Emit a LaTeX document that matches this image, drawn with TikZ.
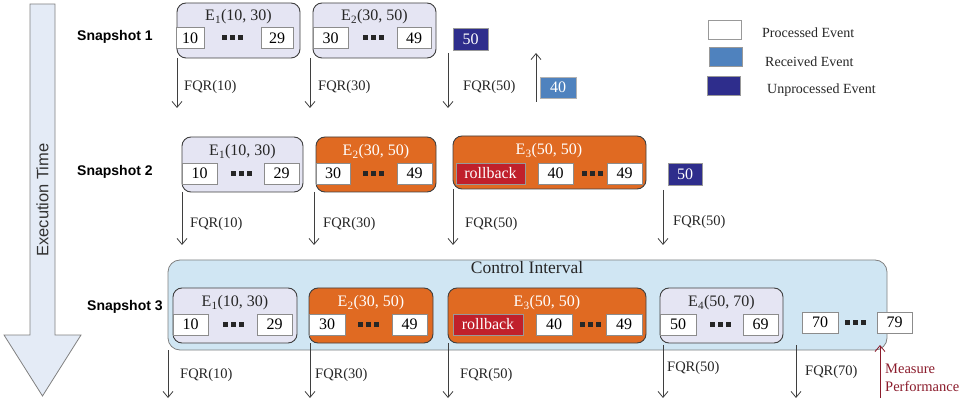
\documentclass[tikz,border=0pt]{standalone}
\usepackage{fontspec}
\setmainfont{Liberation Serif}
\setsansfont{Liberation Sans}
\usetikzlibrary{arrows.meta}
\definecolor{lav}{HTML}{E5E5F3}
\definecolor{org}{HTML}{E06A22}
\definecolor{rb}{HTML}{C0202B}
\definecolor{dkb}{HTML}{2E2D8C}
\definecolor{rcv}{HTML}{4F82BE}
\definecolor{ctl}{HTML}{D0E6F3}
\definecolor{mred}{HTML}{8B1C2C}
\definecolor{ln}{HTML}{3F3F3F}
\definecolor{exe}{HTML}{E4EBF6}
\tikzset{
  grp/.style={draw=ln, line width=0.9pt, rounded corners=9pt, fill=lav, inner sep=0},
  ogrp/.style={grp, fill=org},
  glab/.style={inner sep=0, text=black!85, font=\fontsize{16}{16}\selectfont},
  oglab/.style={glab, text=white},
  ev/.style={draw=black!45, line width=0.8pt, fill=white, inner sep=0, minimum height=21, font=\fontsize{16}{16}\selectfont},
  rbk/.style={ev, fill=rb, text=white, draw=black!40},
  unp/.style={ev, fill=dkb, text=white, draw=black!40},
  rcvd/.style={ev, fill=rcv, text=white, draw=black!30},
  fqr/.style={draw=ln, line width=0.8pt, -{Straight Barb[length=6pt,width=10pt]}},
  flab/.style={anchor=west, inner sep=0, text=black!85, font=\fontsize{14.5}{14.5}\selectfont},
  snap/.style={anchor=west, inner sep=0, font=\sffamily\bfseries\fontsize{14}{14}\selectfont},
  leg/.style={anchor=west, inner sep=0, text=black!85, font=\fontsize{14}{14}\selectfont},
  legbox/.style={draw=black!40, line width=0.8pt, minimum width=33, minimum height=19, inner sep=0},
  dots/.pic={\foreach \i in {-8,0,8} \fill[black!85] (\i-2.5,-2.5) rectangle (\i+2.5,2.5);}
}
\begin{document}
\begin{tikzpicture}[x=1pt,y=-1pt]
\useasboundingbox (0,0) rectangle (969,403);
% execution time arrow
\draw[draw=black!50, fill=exe, line width=0.8pt] (30,4) -- (55,4) -- (55,335) -- (81,335) -- (42.5,396) -- (4,335) -- (30,335) -- cycle;
\node[rotate=90, inner sep=0, text=black!80, font=\sffamily\fontsize{16.5}{16.5}\selectfont] (exet) at (42.5,200) {Execution Time};

% snapshot labels
\node[snap] (sn1) at (77,37) {Snapshot 1};
\node[snap] (sn2) at (77,172) {Snapshot 2};
\node[snap] (sn3) at (87,307) {Snapshot 3};

% legend
\node[legbox, fill=white] (lg1) at (724.5,29.5) {};
\node[legbox, fill=rcv] (lg2) at (725.5,56.5) {};
\node[legbox, fill=dkb] (lg3) at (723.5,85.5) {};
\node[leg] (lt1) at (762,33) {Processed Event};
\node[leg] (lt2) at (765,62) {Received Event};
\node[leg] (lt3) at (767,90) {Unprocessed Event};

% ---------- Snapshot 1
\node[grp, minimum width=123, minimum height=55] (g11) at (238.5,30.5) {};
\node[glab] (l11) at (238.5,17) {E\textsubscript{1}(10, 30)};
\node[ev, minimum width=28] (e11a) at (190,38) {10};
\node[ev, minimum width=32] (e11b) at (277,38) {29};
\pic at (232,38) {dots};

\node[grp, minimum width=123, minimum height=55] (g12) at (374.5,30.5) {};
\node[glab] (l12) at (374.5,17) {E\textsubscript{2}(30, 50)};
\node[ev, minimum width=35] (e12a) at (330.5,38) {30};
\node[ev, minimum width=34] (e12b) at (414,38) {49};
\pic at (373,38) {dots};

\node[unp, minimum width=35, minimum height=22] (u1) at (470.5,39) {50};
\node[rcvd, minimum width=36] (r1) at (558,87.5) {40};

\coordinate (a11s) at (177,58); \coordinate (a11e) at (177,108);
\coordinate (a12s) at (310,58); \coordinate (a12e) at (310,108);
\coordinate (a13s) at (448,53); \coordinate (a13e) at (448,108);
\coordinate (up1s) at (536,102); \coordinate (up1e) at (536,53);
\draw[fqr] (a11s) -- (a11e);
\draw[fqr] (a12s) -- (a12e);
\draw[fqr] (a13s) -- (a13e);
\draw[fqr] (up1s) -- (up1e);
\node[flab] (f11) at (184,87) {FQR(10)};
\node[flab] (f12) at (318,87) {FQR(30)};
\node[flab] (f13) at (463,87) {FQR(50)};

% ---------- Snapshot 2
\node[grp, minimum width=121, minimum height=55] (g21) at (242.5,164.5) {};
\node[glab] (l21) at (242.5,152) {E\textsubscript{1}(10, 30)};
\node[ev, minimum width=35] (e21a) at (199.5,173.5) {10};
\node[ev, minimum width=35] (e21b) at (281.5,173.5) {29};
\pic at (241,173.5) {dots};

\node[ogrp, minimum width=120, minimum height=55] (g22) at (376,164.5) {};
\node[oglab] (l22) at (376,152) {E\textsubscript{2}(30, 50)};
\node[ev, minimum width=34] (e22a) at (333,173.5) {30};
\node[ev, minimum width=35] (e22b) at (414.5,173.5) {49};
\pic at (373,173.5) {dots};

\node[ogrp, minimum width=193, minimum height=53] (g23) at (549.5,162.5) {};
\node[oglab] (l23) at (549,151) {E\textsubscript{3}(50, 50)};
\node[rbk, minimum width=69] (e23r) at (490.5,173.5) {rollback};
\node[ev, minimum width=35] (e23a) at (555.5,173.5) {40};
\node[ev, minimum width=35] (e23b) at (624.5,173.5) {49};
\pic at (592,173.5) {dots};

\node[unp, minimum width=34, minimum height=22] (u2) at (685,174) {50};

\coordinate (a21s) at (182,192); \coordinate (a21e) at (182,245);
\coordinate (a22s) at (314,192); \coordinate (a22e) at (314,245);
\coordinate (a23s) at (453,189); \coordinate (a23e) at (453,245);
\coordinate (a24s) at (663,190); \coordinate (a24e) at (663,245);
\draw[fqr] (a21s) -- (a21e);
\draw[fqr] (a22s) -- (a22e);
\draw[fqr] (a23s) -- (a23e);
\draw[fqr] (a24s) -- (a24e);
\node[flab] (f21) at (190,224) {FQR(10)};
\node[flab] (f22) at (323,224) {FQR(30)};
\node[flab] (f23) at (465,224) {FQR(50)};
\node[flab] (f24) at (673,222) {FQR(50)};

% ---------- Snapshot 3
\node[draw=black!50, line width=0.8pt, fill=ctl, rounded corners=12pt, minimum width=719, minimum height=90, inner sep=0] (ctl) at (527.5,305) {};
\node[inner sep=0, text=black!85, font=\fontsize{17.5}{17.5}\selectfont] (ctlt) at (527,268) {Control Interval};

\node[grp, minimum width=124, minimum height=55] (g31) at (235,315.5) {};
\node[glab] (l31) at (235,303) {E\textsubscript{1}(10, 30)};
\node[ev, minimum width=35] (e31a) at (190.5,324.5) {10};
\node[ev, minimum width=35] (e31b) at (274.5,324.5) {29};
\pic at (233,324.5) {dots};

\node[ogrp, minimum width=124, minimum height=55] (g32) at (371,315.5) {};
\node[oglab] (l32) at (371,303) {E\textsubscript{2}(30, 50)};
\node[ev, minimum width=36] (e32a) at (327,324.5) {30};
\node[ev, minimum width=35] (e32b) at (409.5,324.5) {49};
\pic at (368,324.5) {dots};

\node[ogrp, minimum width=198, minimum height=55] (g33) at (547,315.5) {};
\node[oglab] (l33) at (547,303) {E\textsubscript{3}(50, 50)};
\node[rbk, minimum width=70] (e33r) at (488,324.5) {rollback};
\node[ev, minimum width=36] (e33a) at (554,324.5) {40};
\node[ev, minimum width=36] (e33b) at (624,324.5) {49};
\pic at (590,324.5) {dots};

\node[grp, minimum width=123, minimum height=55] (g34) at (721.5,315.5) {};
\node[glab] (l34) at (721.5,303) {E\textsubscript{4}(50, 70)};
\node[ev, minimum width=36] (e34a) at (678,324.5) {50};
\node[ev, minimum width=35] (e34b) at (760.5,324.5) {69};
\pic at (720,324.5) {dots};

\node[ev, minimum width=36] (e35a) at (820,322.5) {70};
\node[ev, minimum width=35] (e35b) at (894.5,322.5) {79};
\pic at (855,322.5) {dots};

\coordinate (a31s) at (168,350); \coordinate (a31e) at (168,398);
\coordinate (a32s) at (310,343); \coordinate (a32e) at (310,398);
\coordinate (a33s) at (448,343); \coordinate (a33e) at (448,398);
\coordinate (a34s) at (663,345); \coordinate (a34e) at (663,398);
\coordinate (a35s) at (796,345); \coordinate (a35e) at (796,398);
\coordinate (mps) at (880,398); \coordinate (mpe) at (880,345);
\draw[fqr] (a31s) -- (a31e);
\draw[fqr] (a32s) -- (a32e);
\draw[fqr] (a33s) -- (a33e);
\draw[fqr] (a34s) -- (a34e);
\draw[fqr] (a35s) -- (a35e);
\draw[fqr, draw=mred] (mps) -- (mpe);
\node[flab] (f31) at (180,375) {FQR(10)};
\node[flab] (f32) at (315,375) {FQR(30)};
\node[flab] (f33) at (460,375) {FQR(50)};
\node[flab] (f34) at (667,368) {FQR(50)};
\node[flab] (f35) at (805,372) {FQR(70)};
\node[flab, text=mred] (mp1) at (885,369) {Measure};
\node[flab, text=mred] (mp2) at (885,386) {Performance};
\end{tikzpicture}
\end{document}
